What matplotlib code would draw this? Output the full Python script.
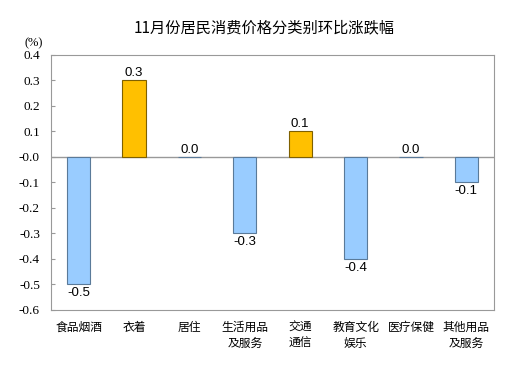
import matplotlib.pyplot as plt
import numpy as np

categories = ['食品烟酒', '衣着', '居住', '生活用品\n及服务', '交通\n通信', '教育文化\n娱乐', '医疗保健', '其他用品\n及服务']
values = [-0.5, 0.3, 0.0, -0.3, 0.1, -0.4, 0.0, -0.1]

cjk = ['Noto Sans CJK SC', 'DejaVu Sans']

fig = plt.figure(figsize=(5.29, 3.78), dpi=100)
ax = fig.add_axes([0.0964, 0.18, 0.8375, 0.6745])

x = np.arange(len(values))
colors = ['#FFC000' if v > 0 else '#99CCFF' for v in values]
edges = ['#7F6000' if v > 0 else '#5A7A99' for v in values]
ax.bar(x, values, width=0.42, color=colors, edgecolor=edges, linewidth=0.8, zorder=3)

for xi, v in zip(x, values):
    if v >= 0:
        ax.text(xi, v + 0.005, f'{v:.1f}', ha='center', va='bottom',
                family='Liberation Sans', fontsize=9.5)
    else:
        ax.text(xi, v - 0.01, f'{v:.1f}', ha='center', va='top',
                family='Liberation Sans', fontsize=9.5)

ax.axhline(0, color='#999999', linewidth=1, zorder=2)
ax.set_xlim(-0.5, len(values) - 0.5)
ax.set_ylim(-0.6, 0.4)
ax.set_yticks(np.arange(-0.6, 0.41, 0.1))
ax.set_yticklabels([f'{t:.1f}' for t in np.arange(-0.6, 0.41, 0.1)],
                   family='Liberation Serif', fontsize=9.5)
ax.set_xticks(x)
ax.set_xticklabels(categories, family=cjk, fontsize=8.5, va='top', linespacing=1.3)
ax.tick_params(axis='x', length=0, pad=8)
ax.tick_params(axis='y', direction='in', length=3, color='#999999', pad=8)
for s in ax.spines.values():
    s.set_color('#999999')

fig.text(0.5, 0.925, '11月份居民消费价格分类别环比涨跌幅', ha='center', va='center',
         family=cjk, fontsize=11)
fig.text(0.047, 0.885, '(%)', ha='left', va='center', family='Liberation Serif', fontsize=9)

fig.savefig('out.png', dpi=100)
